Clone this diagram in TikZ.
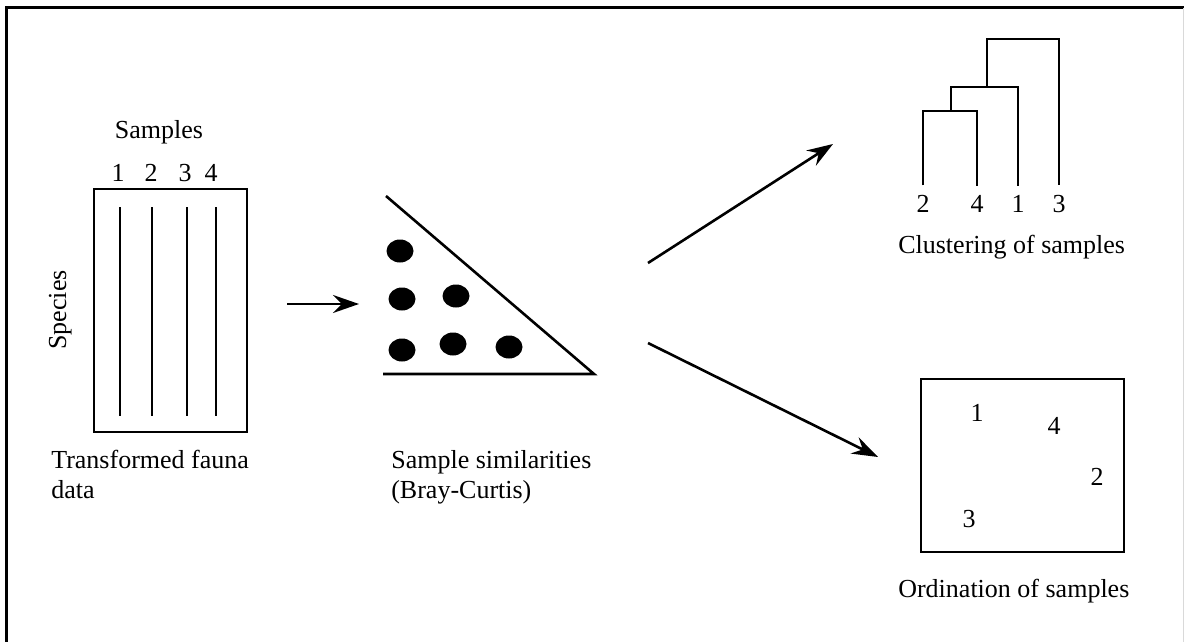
\documentclass[tikz,border=0pt]{standalone}
\usepackage{fontspec}
\setmainfont{Liberation Serif}
\usetikzlibrary{arrows.meta}

\begin{document}
\begin{tikzpicture}[x=1pt,y=-1pt,line width=2.6pt,
  lbl/.style={inner sep=0pt,anchor=base west,align=left,font=\fontsize{26}{30}\selectfont},
  num/.style={inner sep=0pt,anchor=base,font=\fontsize{26}{30}\selectfont},
  arr/.style={-{Stealth[length=26pt,width=18pt,inset=9pt]}}]
\useasboundingbox (0,0) rectangle (1184,642);
% frame
\draw[line width=3pt] (6,642) -- (6,8) -- (1184,8);
\draw[black!15,line width=1pt] (1183,8) -- (1183,642);
% fauna matrix
\node[draw,minimum width=153pt,minimum height=243pt] (fauna) at (170.5,310.5) {};
\foreach \x in {120,152,187,216} \draw (\x,207) -- (\x,416);
\node[num] (samples) at (159,139) {Samples};
\node[num] (s1) at (118,181) {1};
\node[num] (s2) at (151,181) {2};
\node[num] (s3) at (185,181) {3};
\node[num] (s4) at (211,181) {4};
\node[num,rotate=90] (species) at (66,310) {Species};
\node[lbl] (faunalbl) at (50,498) {Transformed fauna\\data};
% similarity triangle
\coordinate (t1) at (386,196);
\coordinate (t2) at (594,374);
\coordinate (t3) at (383,374);
\draw (t1) -- (t2) -- (t3);
\foreach \x/\y in {400/251,402/299,456/296,402/350,453/344,509/347}
  \fill (\x,\y) ellipse [x radius=13.5pt,y radius=11.5pt];
\node[lbl] (simlbl) at (390,498) {Sample similarities\\(Bray-Curtis)};
% arrows
\coordinate (a1) at (287,304);
\coordinate (a2) at (359,304);
\coordinate (b1) at (648,263);
\coordinate (b2) at (833,144);
\coordinate (c1) at (648,343);
\coordinate (c2) at (878,457);
\draw[arr] (a1) -- (a2);
\draw[arr] (b1) -- (b2);
\draw[arr] (c1) -- (c2);
% dendrogram
\node[num] (d2) at (923,212) {2};
\node[num] (d4) at (977,212) {4};
\node[num] (d1) at (1018,212) {1};
\node[num] (d3) at (1059,212) {3};
\coordinate (m24) at (951,111);
\coordinate (m241) at (987,87);
\coordinate (mall) at (1020,39);
\draw ([yshift=8pt]d2.north) |- (m24) -| ([yshift=8pt]d4.north);
\draw (m24) |- (m241) -| ([yshift=8pt]d1.north);
\draw (m241) |- (mall) -| ([yshift=8pt]d3.north);
\node[lbl] (clustlbl) at (897,253) {Clustering of samples};
% ordination
\node[draw,minimum width=203pt,minimum height=173pt] (ord) at (1022.5,465.5) {};
\node[num] (o1) at (977,421) {1};
\node[num] (o4) at (1054,434) {4};
\node[num] (o2) at (1097,485) {2};
\node[num] (o3) at (969,527) {3};
\node[lbl] (ordlbl) at (897,597) {Ordination of samples};
\end{tikzpicture}
\end{document}
